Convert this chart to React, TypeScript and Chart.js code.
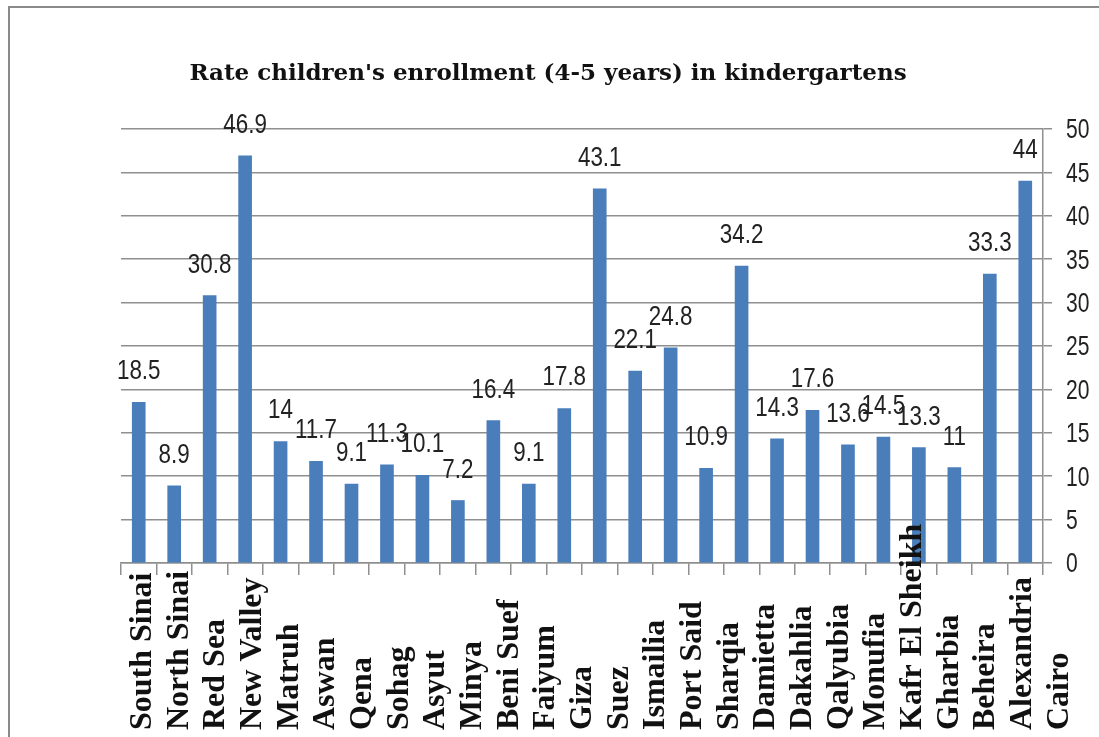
import React, { useEffect, useRef } from "react";
import { Chart, registerables } from "chart.js";

Chart.register(...registerables);

const chartTitle = "Rate children's enrollment (4-5 years) in kindergartens";

const governorates = [
  "South Sinai",
  "North Sinai",
  "Red Sea",
  "New Valley",
  "Matruh",
  "Aswan",
  "Qena",
  "Sohag",
  "Asyut",
  "Minya",
  "Beni Suef",
  "Faiyum",
  "Giza",
  "Suez",
  "Ismailia",
  "Port Said",
  "Sharqia",
  "Damietta",
  "Dakahlia",
  "Qalyubia",
  "Monufia",
  "Kafr El Sheikh",
  "Gharbia",
  "Beheira",
  "Alexandria",
  "Cairo",
];

const enrollmentRates = [
  18.5, 8.9, 30.8, 46.9, 14, 11.7, 9.1, 11.3, 10.1, 7.2, 16.4, 9.1, 17.8, 43.1,
  22.1, 24.8, 10.9, 34.2, 14.3, 17.6, 13.6, 14.5, 13.3, 11, 33.3, 44,
];

const yMin = 0;
const yMax = 50;
const yStep = 5;

const GRID = "#8f8f8f";
const BAR = "#4A7EBB";

const decorPlugin = {
  id: "decor",
  afterDraw(chart: any) {
    const ctx = chart.ctx as CanvasRenderingContext2D;
    const area = chart.chartArea;
    const xs = chart.scales.x;
    const ys = chart.scales.y;
    ctx.save();

    // outer frame (top + left)
    ctx.strokeStyle = "#8a8a8a";
    ctx.lineWidth = 2;
    ctx.beginPath();
    ctx.moveTo(9, 737);
    ctx.lineTo(9, 7);
    ctx.lineTo(1099, 7);
    ctx.stroke();

    // title
    ctx.fillStyle = "#111";
    ctx.font = 'bold 23px "DejaVu Serif"';
    ctx.textAlign = "center";
    ctx.textBaseline = "alphabetic";
    ctx.fillText(chartTitle, 548, 80);

    // y tick labels (right side)
    ys.ticks.forEach((t: any) => {
      const y = ys.getPixelForValue(t.value);
      ctx.save();
      ctx.translate(area.right + 23, y + 2);
      ctx.scale(0.78, 1);
      ctx.font = '27px "Liberation Sans"';
      ctx.textAlign = "left";
      ctx.textBaseline = "middle";
      ctx.fillStyle = "#222";
      ctx.fillText(String(t.value), 0, 0);
      ctx.restore();
    });

    // value labels above bars
    const meta = chart.getDatasetMeta(0);
    meta.data.forEach((bar: any, i: number) => {
      ctx.save();
      ctx.translate(bar.x, bar.y - 23);
      ctx.scale(0.8, 1);
      ctx.font = '28px "Liberation Sans"';
      ctx.textAlign = "center";
      ctx.textBaseline = "alphabetic";
      ctx.fillStyle = "#222";
      ctx.fillText(String(enrollmentRates[i]), 0, 0);
      ctx.restore();
    });

    // category labels (rotated, reading upward, starting at the bottom)
    const step = ((xs.right - xs.left) / governorates.length) * 1.034;
    governorates.forEach((g, i) => {
      ctx.save();
      ctx.translate(xs.left + 30 + i * step, 730);
      ctx.rotate(-Math.PI / 2);
      ctx.font = 'bold 32px "Liberation Serif"';
      ctx.textAlign = "left";
      ctx.textBaseline = "alphabetic";
      ctx.fillStyle = "#111";
      ctx.fillText(g, 0, 0);
      ctx.restore();
    });

    ctx.restore();
  },
};

export default function App() {
  const canvasRef = useRef<HTMLCanvasElement | null>(null);

  useEffect(() => {
    if (!canvasRef.current) return;
    const chart = new Chart(canvasRef.current, {
      type: "bar",
      data: {
        labels: governorates,
        datasets: [
          {
            data: enrollmentRates,
            backgroundColor: BAR,
            borderWidth: 0,
            barThickness: 13,
          },
        ],
      },
      options: {
        animation: false,
        responsive: false,
        devicePixelRatio: 1,
        layout: { padding: { left: 121, top: 129, right: 0, bottom: 0 } },
        plugins: {
          legend: { display: false },
          title: { display: false },
          tooltip: { enabled: false },
        },
        scales: {
          x: {
            offset: true,
            grid: {
              offset: true,
              drawOnChartArea: false,
              drawTicks: true,
              tickLength: 12,
              color: GRID,
              lineWidth: 1.5,
            },
            border: { display: true, color: GRID, width: 1.5 },
            ticks: { display: false },
            afterFit: (scale: any) => {
              scale.height = 174;
            },
          },
          y: {
            position: "right",
            min: yMin,
            max: yMax,
            ticks: { display: false, stepSize: yStep },
            grid: {
              color: GRID,
              lineWidth: 1.5,
              drawTicks: true,
              tickLength: 9,
            },
            border: { display: true, color: GRID, width: 1.5 },
            afterFit: (scale: any) => {
              scale.width = 56;
            },
          },
        },
      },
      plugins: [decorPlugin],
    });
    return () => chart.destroy();
  }, []);

  return (
    <div style={{ position: "fixed", left: 0, top: 0, width: 1099, height: 737, background: "#fff" }}>
      <canvas ref={canvasRef} width={1099} height={737} style={{ display: "block" }} />
    </div>
  );
}
